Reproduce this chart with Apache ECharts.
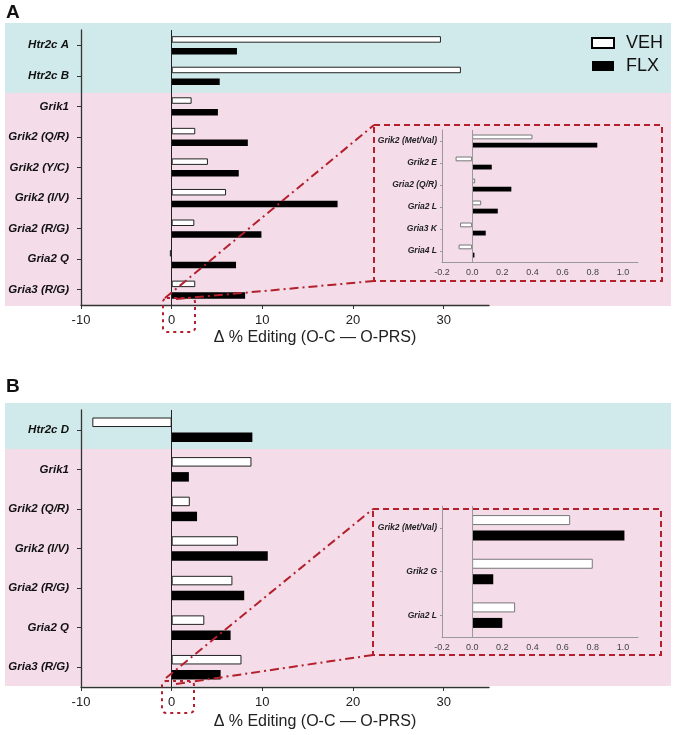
<!DOCTYPE html>
<html><head><meta charset="utf-8">
<script src="https://cdn.jsdelivr.net/npm/echarts@6/dist/echarts.min.js"></script>
<style>html,body{margin:0;padding:0;background:#fff}#c{width:675px;height:735px}</style>
</head><body><div id="c"></div>
<script>
// ---- data ----
const catsA = ['Htr2c A','Htr2c B','Grik1','Grik2 (Q/R)','Grik2 (Y/C)','Grik2 (I/V)','Gria2 (R/G)','Gria2 Q','Gria3 (R/G)'];
const vehA = [29.7, 31.9, 2.2, 2.6, 4.0, 6.0, 2.5, -0.2, 2.6];
const flxA = [7.2, 5.3, 5.1, 8.4, 7.4, 18.3, 9.9, 7.1, 8.1];
const catsInsetA = ['Grik2 (Met/Val)','Grik2 E','Gria2 (Q/R)','Gria2 L','Gria3 K','Gria4 L'];
const vehInsetA = [0.40, -0.11, 0.02, 0.06, -0.08, -0.09];
const flxInsetA = [0.83, 0.13, 0.26, 0.17, 0.09, 0.015];
const catsB = ['Htr2c D','Grik1','Grik2 (Q/R)','Grik2 (I/V)','Gria2 (R/G)','Gria2 Q','Gria3 (R/G)'];
const vehB = [-8.75, 8.8, 2.0, 7.3, 6.7, 3.6, 7.7];
const flxB = [8.9, 1.9, 2.8, 10.6, 8.0, 6.5, 5.4];
const catsInsetB = ['Grik2 (Met/Val)','Grik2 G','Gria2 L'];
const vehInsetB = [0.65, 0.80, 0.285];
const flxInsetB = [1.01, 0.14, 0.20];
const mainTicks = [-10, 0, 10, 20, 30];
const insetTicks = [-0.2, 0, 0.2, 0.4, 0.6, 0.8, 1.0];
const axisTitle = 'Δ % Editing (O-C — O-PRS)';

// ---- styles ----
const FONT = '"Liberation Sans", Arial, sans-serif';
const RED = '#b3202c';
const BLUE = '#d0e9ea';
const PINK = '#f4dde9';

function mainX(gi) {
  return {
    type: 'value', gridIndex: gi, min: -10, max: 35, interval: 10,
    splitLine: {show: false},
    axisLine: {show: true, onZero: false, lineStyle: {color: '#333', width: 1.3}},
    axisTick: {show: true, length: 4, customValues: mainTicks, lineStyle: {color: '#333'}},
    axisLabel: {customValues: mainTicks, fontFamily: FONT, fontSize: 13, color: '#222', margin: 9}
  };
}
function insetX(gi) {
  return {
    type: 'value', gridIndex: gi, min: -0.2, max: 1.1, interval: 0.2,
    splitLine: {show: false},
    axisLine: {show: true, onZero: false, lineStyle: {color: '#999', width: 1}},
    axisTick: {show: false},
    axisLabel: {customValues: insetTicks, fontFamily: FONT, fontSize: 9, color: '#444', margin: 6,
      formatter: v => Number(v).toFixed(1)}
  };
}
function mainY(gi, cats) {
  return {
    type: 'category', gridIndex: gi, data: cats, inverse: true,
    axisLine: {show: true, onZero: false, lineStyle: {color: '#333', width: 1.3}},
    axisTick: {show: true, alignWithLabel: true, length: 4, lineStyle: {color: '#333'}},
    axisLabel: {fontFamily: FONT, fontSize: 11.5, fontStyle: 'italic', fontWeight: 'bold', color: '#111', margin: 12}
  };
}
function insetY(gi, cats) {
  return {
    type: 'category', gridIndex: gi, data: cats, inverse: true,
    axisLine: {show: true, onZero: false, lineStyle: {color: '#999', width: 1}},
    axisTick: {show: true, alignWithLabel: true, length: 2, lineStyle: {color: '#999'}},
    axisLabel: {fontFamily: FONT, fontSize: 8.5, fontStyle: 'italic', fontWeight: 'bold', color: '#222', margin: 5}
  };
}
function zeroLine(color) {
  return {silent: true, symbol: 'none', label: {show: false},
    lineStyle: {color: color, width: 1, type: 'solid'}, data: [{xAxis: 0}]};
}
function vehSeries(data, gi, bw, gap, inset) {
  return {name: 'VEH', type: 'bar', xAxisIndex: gi, yAxisIndex: gi, data: data,
    barWidth: bw, barGap: gap,
    itemStyle: {color: '#fff', borderColor: inset ? '#777' : '#222', borderWidth: 1},
    markLine: zeroLine(inset ? '#999' : '#222')};
}
function flxSeries(data, gi, bw, gap) {
  return {name: 'FLX', type: 'bar', xAxisIndex: gi, yAxisIndex: gi, data: data,
    barWidth: bw, barGap: gap, itemStyle: {color: '#000'}};
}

const dashDot = [9, 4, 2, 4];
const graphics = [
  // backgrounds
  {type: 'rect', z: -10, shape: {x: 5, y: 23, width: 666, height: 70}, style: {fill: BLUE}},
  {type: 'rect', z: -10, shape: {x: 5, y: 93, width: 666, height: 213}, style: {fill: PINK}},
  {type: 'rect', z: -10, shape: {x: 5, y: 403, width: 666, height: 46}, style: {fill: BLUE}},
  {type: 'rect', z: -10, shape: {x: 5, y: 449, width: 666, height: 237}, style: {fill: PINK}},
  // panel letters
  {type: 'text', x: 6, y: 13, style: {text: 'A', font: 'bold 19px ' + FONT, fill: '#111', verticalAlign: 'middle'}},
  {type: 'text', x: 6, y: 387, style: {text: 'B', font: 'bold 19px ' + FONT, fill: '#111', verticalAlign: 'middle'}},
  // axis titles
  {type: 'text', x: 315, y: 338, style: {text: axisTitle, font: '16px ' + FONT, fill: '#222', align: 'center', verticalAlign: 'middle'}},
  {type: 'text', x: 315, y: 722, style: {text: axisTitle, font: '16px ' + FONT, fill: '#222', align: 'center', verticalAlign: 'middle'}},
  // inset frames
  {type: 'rect', z: 50, shape: {x: 374, y: 125, width: 288, height: 156}, style: {fill: 'none', stroke: RED, lineWidth: 2, lineDash: [6, 4]}},
  {type: 'rect', z: 50, shape: {x: 373, y: 509, width: 288, height: 146}, style: {fill: 'none', stroke: RED, lineWidth: 2, lineDash: [6, 4]}},
  // zoom boxes
  {type: 'rect', z: 50, shape: {x: 163, y: 298, width: 32, height: 34, r: 4}, style: {fill: 'none', stroke: RED, lineWidth: 2, lineDash: [3, 4]}},
  {type: 'rect', z: 50, shape: {x: 162, y: 681, width: 32, height: 32, r: 4}, style: {fill: 'none', stroke: RED, lineWidth: 2, lineDash: [3, 4]}},
  // connectors
  {type: 'line', z: 50, shape: {x1: 165, y1: 298, x2: 374, y2: 125}, style: {stroke: RED, lineWidth: 2, lineDash: dashDot}},
  {type: 'line', z: 50, shape: {x1: 176, y1: 299, x2: 374, y2: 281}, style: {stroke: RED, lineWidth: 2, lineDash: dashDot}},
  {type: 'line', z: 50, shape: {x1: 166, y1: 678, x2: 373, y2: 509}, style: {stroke: RED, lineWidth: 2, lineDash: dashDot}},
  {type: 'line', z: 50, shape: {x1: 176, y1: 684, x2: 373, y2: 655}, style: {stroke: RED, lineWidth: 2, lineDash: dashDot}}
];

const option = {
  animation: false,
  backgroundColor: '#fff',
  textStyle: {fontFamily: FONT},
  legend: {
    left: 591, top: 34, orient: 'vertical', selectedMode: false, icon: 'rect',
    itemWidth: 22, itemHeight: 10, itemGap: 5, padding: 0,
    textStyle: {fontFamily: FONT, fontSize: 18, color: '#111', padding: [0, 0, 0, 7]},
    data: [{name: 'VEH', itemStyle: {borderWidth: 2, borderColor: '#000', color: '#fff'}}, {name: 'FLX'}]
  },
  grid: [
    {left: 81, top: 30, width: 408, height: 275},
    {left: 442, top: 130, width: 196, height: 132},
    {left: 81, top: 410, width: 408, height: 277},
    {left: 442, top: 506, width: 196, height: 131}
  ],
  xAxis: [mainX(0), insetX(1), mainX(2), insetX(3)],
  yAxis: [mainY(0, catsA), insetY(1, catsInsetA), mainY(2, catsB), insetY(3, catsInsetB)],
  series: [
    vehSeries(vehA, 0, 6.5, '80%', false), flxSeries(flxA, 0, 6.5, '80%'),
    vehSeries(vehInsetA, 1, 4.8, '70%', true), flxSeries(flxInsetA, 1, 4.8, '70%'),
    vehSeries(vehB, 2, 9.5, '58%', false), flxSeries(flxB, 2, 9.5, '58%'),
    vehSeries(vehInsetB, 3, 10, '55%', true), flxSeries(flxInsetB, 3, 10, '55%')
  ],
  graphic: graphics
};
const chart = echarts.init(document.getElementById('c'), null, {renderer: 'canvas'});
chart.setOption(option);
</script></body></html>
